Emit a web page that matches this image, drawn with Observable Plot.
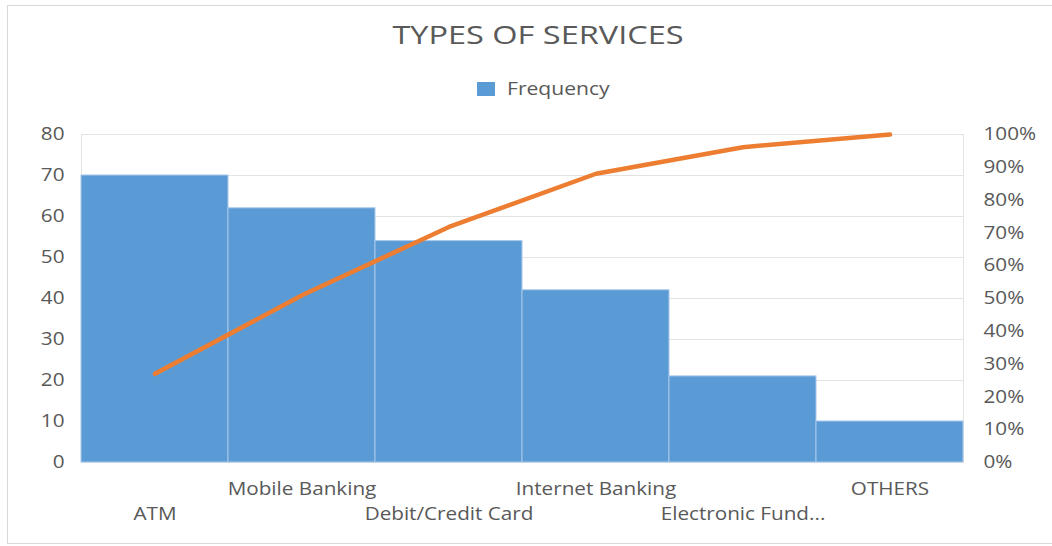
<!DOCTYPE html>
<html><head><meta charset="utf-8">
<script src="https://cdn.jsdelivr.net/npm/d3@7"></script>
<script src="https://cdn.jsdelivr.net/npm/@observablehq/plot@0.6"></script>
<style>
html,body{margin:0;padding:0;background:#fff;}
body{width:1052px;height:546px;overflow:hidden;position:relative;font-family:"Open Sans",sans-serif;}
#frame{position:absolute;left:7px;top:5px;width:1050px;height:539px;border:1px solid #d9d9d9;box-sizing:border-box;}
#title{position:absolute;left:0;width:1075px;top:17px;text-align:center;font-size:25px;color:#595959;}
#title span{display:inline-block;transform:scaleX(1.3);transform-origin:center;}
#legend{position:absolute;left:477px;top:75px;font-size:19px;color:#595959;display:flex;align-items:flex-start;}
#legend span.sw{display:inline-block;width:18px;height:14px;background:#5b9bd5;margin-right:12px;margin-top:7px;}
#legend span.tx{display:inline-block;transform:scaleX(1.11);transform-origin:left;}
#chart{position:absolute;left:0;top:110px;}
</style></head>
<body>
<div id="frame"></div>
<div id="title"><span>TYPES OF SERVICES</span></div>
<div id="legend"><span class="sw"></span><span class="tx">Frequency</span></div>
<div id="chart"></div>
<script>
const categories = ["ATM","Mobile Banking","Debit/Credit Card","Internet Banking","Electronic Fund...","OTHERS"];
const frequency = [70, 62, 54, 42, 21, 10];
const leftTicks = [0,10,20,30,40,50,60,70,80];
const rightTickLabels = ["0%","10%","20%","30%","40%","50%","60%","70%","80%","90%","100%"];

const total = d3.sum(frequency);
let run = 0;
const cumPct = frequency.map(v => (run += v) / total);
const yMax = 80;
const rows = categories.map((c,i) => ({cat:c, freq:frequency[i], pctY: cumPct[i]*yMax}));
const rightTicks = rightTickLabels.map((_,i) => i*yMax/10);

const chart = Plot.plot({
  width:1052, height:436,
  marginTop:24, marginBottom:84, marginLeft:81, marginRight:89,
  style:{fontFamily:"Open Sans", fontSize:"18px", color:"#595959", background:"transparent"},
  x:{domain:categories, paddingInner:0, paddingOuter:0, label:null},
  y:{domain:[0,yMax], label:null},
  marks:[
    Plot.ruleY(leftTicks, {stroke:"#e3e3e3", strokeWidth:1}),
    Plot.frame({stroke:"#e3e3e3"}),
    Plot.barY(rows, {x:"cat", y:"freq", fill:"#5b9bd5", stroke:"#a8c8ea", strokeWidth:1, inset:0}),
    Plot.line(rows, {x:"cat", y:"pctY", stroke:"#ed7d31", strokeWidth:4.5, strokeLinecap:"round"}),
    Plot.axisY({ticks:leftTicks, anchor:"left", tickSize:0, tickPadding:17, label:null, fill:"#595959"}),
    Plot.axisY({ticks:rightTicks, anchor:"right", tickSize:0, tickPadding:20, label:null, fill:"#595959",
      tickFormat:(d) => rightTickLabels[Math.round(d/yMax*10)]}),
    Plot.axisX({ticks:categories.filter((_,i)=>i%2===1), tickSize:0, tickPadding:20, label:null, fill:"#595959"}),
    Plot.axisX({ticks:categories.filter((_,i)=>i%2===0), tickSize:0, tickPadding:45, label:null, fill:"#595959"})
  ]
});
// widen tick label glyphs horizontally, keeping each label's anchor point
const sx = 1.15;
chart.querySelectorAll("text").forEach(t => {
  const tr = t.getAttribute("transform");
  if (tr) t.setAttribute("transform", tr + ` scale(${sx},1)`);
  else {
    const x = +t.getAttribute("x") || 0;
    t.setAttribute("transform", `translate(${x},0) scale(${sx},1) translate(${-x},0)`);
  }
});
document.getElementById("chart").appendChild(chart);
</script>
</body></html>
